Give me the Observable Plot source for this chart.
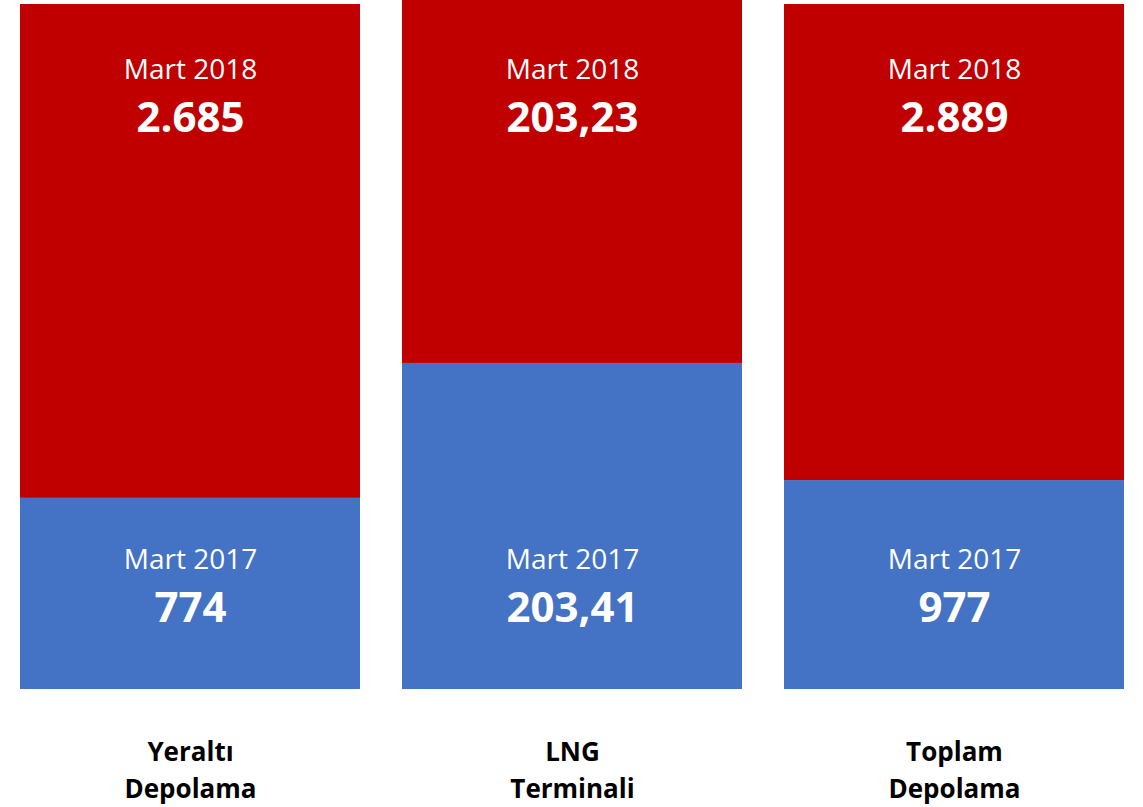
<!DOCTYPE html>
<html>
<head>
<meta charset="utf-8">
<script src="https://cdn.jsdelivr.net/npm/d3@7"></script>
<script src="https://cdn.jsdelivr.net/npm/@observablehq/plot@0.6"></script>
<style>
  html, body { margin: 0; padding: 0; background: #fff; }
  #chart svg { display: block; font-family: "Open Sans", sans-serif; }
</style>
</head>
<body>
<div id="chart"></div>
<script>
// Categories (two-line labels)
const categories = ["Yeraltı\nDepolama", "LNG\nTerminali", "Toplam\nDepolama"];
// Value labels shown on the bars
const labels2017 = ["774", "203,41", "977"];
const labels2018 = ["2.685", "203,23", "2.889"];
// Bar segment heights (share of bar height, %)
const share2017 = [27.9, 47.6, 30.5];
const share2018 = [72.1, 53.0, 69.5];

const periodNames = {"2017": "Mart 2017", "2018": "Mart 2018"};
const colors = {"2017": "#4472C4", "2018": "#C00000"};

const rows = [
  ...categories.map((c, i) => ({cat: c, year: "2017", share: share2017[i], label: labels2017[i]})),
  ...categories.map((c, i) => ({cat: c, year: "2018", share: share2018[i], label: labels2018[i]}))
];
const r17 = rows.filter(d => d.year === "2017");
const r18 = rows.filter(d => d.year === "2018");

const chart = Plot.plot({
  width: 1143,
  height: 807,
  marginTop: 4,
  marginBottom: 118,
  marginLeft: 19,
  marginRight: 19,
  style: {fontFamily: "'Open Sans', sans-serif", background: "#fff"},
  x: {domain: categories, paddingInner: 0.11, paddingOuter: 0, axis: null},
  y: {domain: [0, 100], axis: null},
  marks: [
    Plot.barY(rows, {x: "cat", y: "share", fill: d => colors[d.year], order: null}),
    // Mart 2018 labels
    Plot.text(r18, {x: "cat", text: d => periodNames[d.year], frameAnchor: "top", lineAnchor: "middle", dy: 66, fill: "white", fontSize: 28}),
    Plot.text(r18, {x: "cat", text: "label", frameAnchor: "top", lineAnchor: "middle", dy: 114, fill: "white", fontSize: 42, fontWeight: "bold"}),
    // Mart 2017 labels
    Plot.text(r17, {x: "cat", text: d => periodNames[d.year], frameAnchor: "bottom", lineAnchor: "middle", dy: -129, fill: "white", fontSize: 28}),
    Plot.text(r17, {x: "cat", text: "label", frameAnchor: "bottom", lineAnchor: "middle", dy: -81, fill: "white", fontSize: 42, fontWeight: "bold"}),
    // Category labels
    Plot.text(categories, {x: d => d, text: d => d, frameAnchor: "bottom", lineAnchor: "middle", dy: 78, fill: "black", fontSize: 26, fontWeight: "bold", lineHeight: 1.45})
  ]
});
document.getElementById("chart").appendChild(chart);
</script>
</body>
</html>
